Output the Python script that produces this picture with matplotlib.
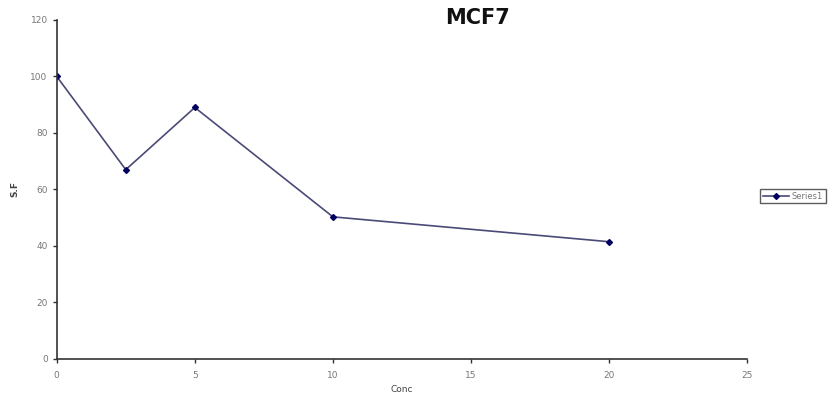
import matplotlib
matplotlib.use('Agg')
import matplotlib.pyplot as plt

conc = [0, 2.5, 5, 10, 20]
sf = [100, 67, 89, 50.3, 41.5]
x_ticks = [0, 5, 10, 15, 20, 25]
y_ticks = [0, 20, 40, 60, 80, 100, 120]

fig = plt.figure(figsize=(8.34, 3.98), dpi=100)
ax = fig.add_axes([0.068, 0.098, 0.828, 0.852])

ax.plot(conc, sf, color='#4a4a78', lw=1.2, marker='D', ms=3,
        mfc='#000060', mec='#000060', label='Series1')

ax.set_xlim(0, 25)
ax.set_ylim(0, 120)
ax.set_xticks(x_ticks)
ax.set_yticks(y_ticks)
for s in ['top', 'right']:
    ax.spines[s].set_visible(False)
for s in ['left', 'bottom']:
    ax.spines[s].set_color('#333333')
    ax.spines[s].set_linewidth(1.2)
ax.tick_params(colors='#333333', labelcolor='#777777', labelsize=6.5,
               length=3, width=1)
ax.tick_params(axis='x', pad=6)

ax.set_xlabel('Conc', fontsize=6.5, color='#444444', labelpad=3)
ax.set_ylabel('S.F', fontsize=6.5, color='#444444', labelpad=8, fontweight='bold')

fig.text(0.573, 0.955, 'MCF7', ha='center', va='center',
         fontsize=15, fontweight='bold', color='#111111')

leg = ax.legend(loc='center left', bbox_to_anchor=(1.015, 0.48), fontsize=6,
                frameon=True, fancybox=False, edgecolor='#333333',
                borderpad=0.3, handlelength=3.2, handletextpad=0.3,
                borderaxespad=0.3)
leg.get_frame().set_linewidth(1)
for t in leg.get_texts():
    t.set_color('#777777')

plt.savefig('out.png', dpi=100)
